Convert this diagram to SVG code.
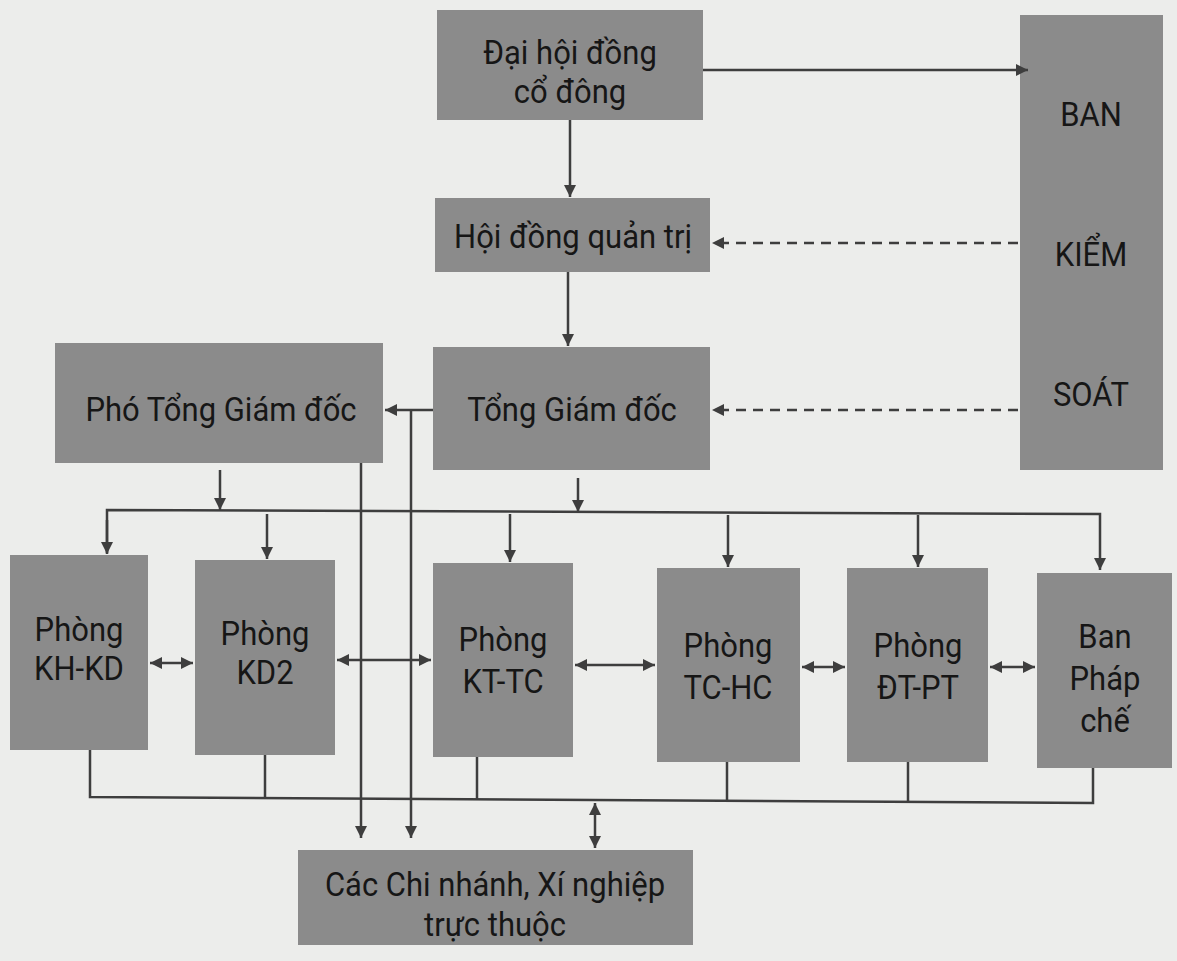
<svg xmlns="http://www.w3.org/2000/svg" width="1177" height="961" viewBox="0 0 1177 961">
<style>
.box{fill:#8b8b8b}
.t{font-family:Roboto,"Liberation Sans",sans-serif;font-size:31px;fill:#161616;text-anchor:middle}
.ln{stroke:#3e3e3e;stroke-width:2.5;fill:none}
.ds{stroke:#3e3e3e;stroke-width:2.5;fill:none;stroke-dasharray:10 7}
</style>
<defs>
<marker id="ah" viewBox="0 0 10 10" refX="10" refY="5" markerWidth="13" markerHeight="12" orient="auto-start-reverse" markerUnits="userSpaceOnUse">
<path d="M0,0 L10,5 L0,10 z" fill="#3e3e3e"/>
</marker>
</defs>
<rect width="1177" height="961" fill="#ecedeb"/>

<g id="dhdcd"><rect class="box" x="437" y="10" width="266" height="110"/><text class="t" transform="translate(570,64) scale(1,1.1)">Đại hội đồng</text><text class="t" transform="translate(570,103) scale(1,1.1)">cổ đông</text></g>
<g id="bks"><rect class="box" x="1020" y="15" width="143" height="455"/><text class="t" transform="translate(1091,126) scale(1,1.1)">BAN</text><text class="t" transform="translate(1091,266) scale(1,1.1)">KIỂM</text><text class="t" transform="translate(1091,406) scale(1,1.1)">SOÁT</text></g>
<g id="hdqt"><rect class="box" x="435" y="198" width="275" height="74"/><text class="t" transform="translate(573,248) scale(1,1.1)">Hội đồng quản trị</text></g>
<g id="tgd"><rect class="box" x="433" y="347" width="277" height="123"/><text class="t" transform="translate(572,421) scale(1,1.1)">Tổng Giám đốc</text></g>
<g id="ptgd"><rect class="box" x="55" y="343" width="328" height="120"/><text class="t" transform="translate(221,421) scale(1,1.1)">Phó Tổng Giám đốc</text></g>
<g id="khkd"><rect class="box" x="10" y="555" width="138" height="195"/><text class="t" transform="translate(79,641) scale(1,1.1)">Phòng</text><text class="t" transform="translate(79,680) scale(1,1.1)">KH-KD</text></g>
<g id="kd2"><rect class="box" x="195" y="560" width="140" height="195"/><text class="t" transform="translate(265,645) scale(1,1.1)">Phòng</text><text class="t" transform="translate(265,684) scale(1,1.1)">KD2</text></g>
<g id="kttc"><rect class="box" x="433" y="563" width="140" height="194"/><text class="t" transform="translate(503,651) scale(1,1.1)">Phòng</text><text class="t" transform="translate(503,693) scale(1,1.1)">KT-TC</text></g>
<g id="tchc"><rect class="box" x="657" y="568" width="143" height="194"/><text class="t" transform="translate(728,657) scale(1,1.1)">Phòng</text><text class="t" transform="translate(728,699) scale(1,1.1)">TC-HC</text></g>
<g id="dtpt"><rect class="box" x="847" y="568" width="141" height="194"/><text class="t" transform="translate(918,657) scale(1,1.1)">Phòng</text><text class="t" transform="translate(918,699) scale(1,1.1)">ĐT-PT</text></g>
<g id="bpc"><rect class="box" x="1037" y="573" width="135" height="195"/><text class="t" transform="translate(1105,648) scale(1,1.1)">Ban</text><text class="t" transform="translate(1105,690) scale(1,1.1)">Pháp</text><text class="t" transform="translate(1105,732) scale(1,1.1)">chế</text></g>
<g id="cn"><rect class="box" x="298" y="850" width="395" height="95"/><text class="t" transform="translate(495,896) scale(1,1.1)">Các Chi nhánh, Xí nghiệp</text><text class="t" transform="translate(495,936) scale(1,1.1)">trực thuộc</text></g>

<g id="connectors">
<line class="ln" x1="703" y1="70" x2="1028" y2="70" marker-end="url(#ah)"/>
<line class="ln" x1="570" y1="120" x2="570" y2="197" marker-end="url(#ah)"/>
<line class="ds" x1="1018" y1="243" x2="712" y2="243" marker-end="url(#ah)"/>
<line class="ln" x1="568" y1="272" x2="568" y2="346" marker-end="url(#ah)"/>
<line class="ds" x1="1018" y1="410" x2="712" y2="410" marker-end="url(#ah)"/>
<line class="ln" x1="433" y1="410" x2="385" y2="410" marker-end="url(#ah)"/>
<line class="ln" x1="411" y1="410" x2="411" y2="838" marker-end="url(#ah)"/>
<line class="ln" x1="361" y1="463" x2="361" y2="838" marker-end="url(#ah)"/>
<line class="ln" x1="220" y1="470" x2="220" y2="510" marker-end="url(#ah)"/>
<line class="ln" x1="578" y1="478" x2="578" y2="512" marker-end="url(#ah)"/>
<polyline class="ln" points="107,553 107,510 1100,514 1100,570" marker-end="url(#ah)"/>
<line class="ln" x1="107" y1="520" x2="107" y2="554" marker-end="url(#ah)"/>
<line class="ln" x1="267" y1="514" x2="267" y2="559" marker-end="url(#ah)"/>
<line class="ln" x1="510" y1="514" x2="510" y2="562" marker-end="url(#ah)"/>
<line class="ln" x1="728" y1="515" x2="728" y2="567" marker-end="url(#ah)"/>
<line class="ln" x1="918" y1="515" x2="918" y2="567" marker-end="url(#ah)"/>
<line class="ln" x1="150" y1="663" x2="193" y2="663" marker-start="url(#ah)" marker-end="url(#ah)"/>
<line class="ln" x1="337" y1="660" x2="431" y2="660" marker-start="url(#ah)" marker-end="url(#ah)"/>
<line class="ln" x1="575" y1="665" x2="655" y2="665" marker-start="url(#ah)" marker-end="url(#ah)"/>
<line class="ln" x1="802" y1="667" x2="845" y2="667" marker-start="url(#ah)" marker-end="url(#ah)"/>
<line class="ln" x1="990" y1="667" x2="1035" y2="667" marker-start="url(#ah)" marker-end="url(#ah)"/>
<polyline class="ln" points="90,750 90,797 1093,803 1093,768"/>
<line class="ln" x1="265" y1="755" x2="265" y2="798"/>
<line class="ln" x1="477" y1="757" x2="477" y2="799"/>
<line class="ln" x1="727" y1="762" x2="727" y2="801"/>
<line class="ln" x1="908" y1="762" x2="908" y2="802"/>
<line class="ln" x1="595" y1="803" x2="595" y2="848" marker-start="url(#ah)" marker-end="url(#ah)"/>
</g>
</svg>
